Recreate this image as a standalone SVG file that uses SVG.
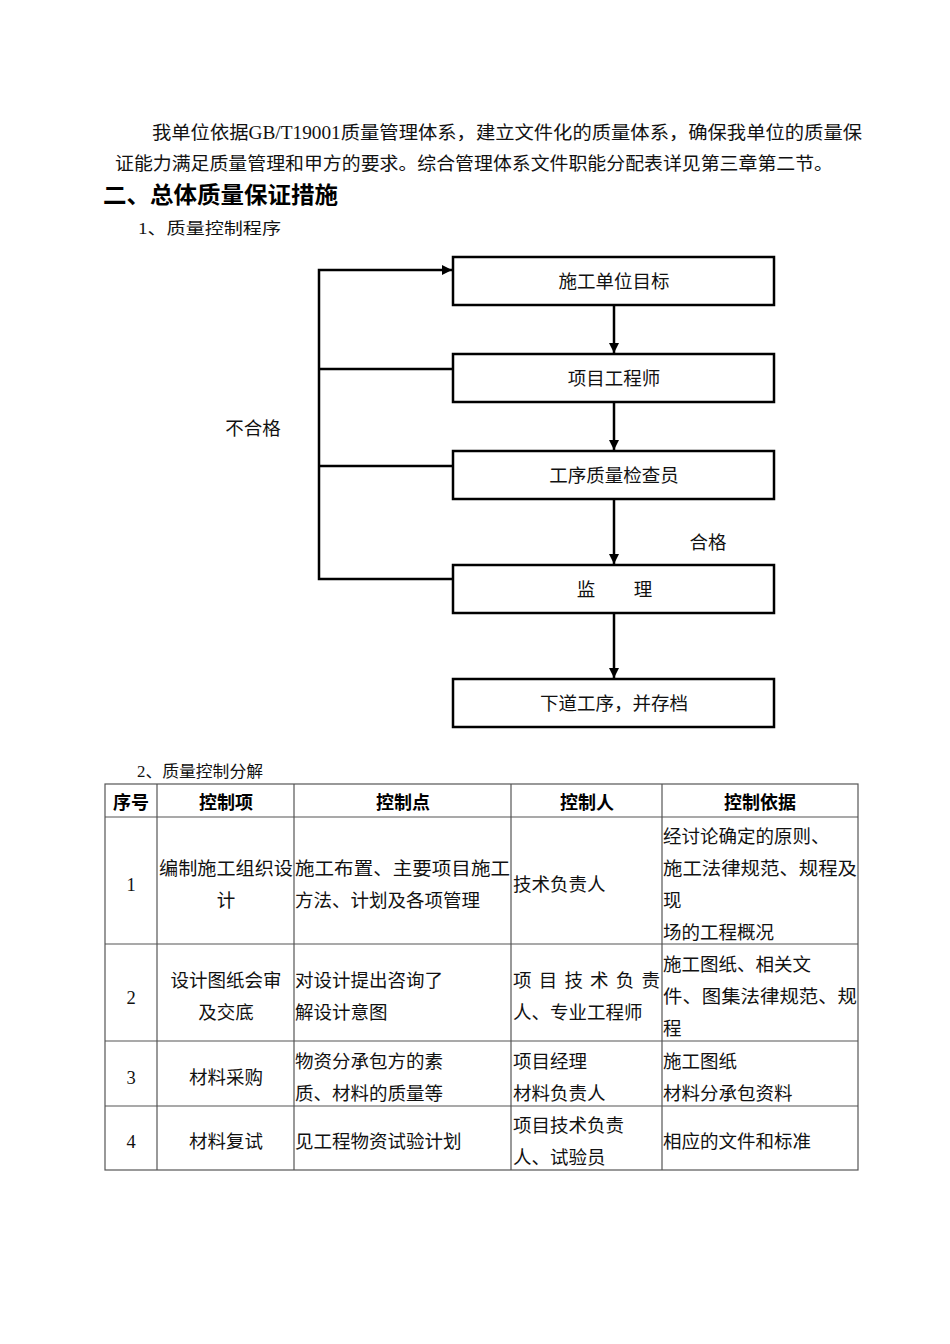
<svg xmlns="http://www.w3.org/2000/svg" width="950" height="1344" viewBox="0 0 950 1344">
<style>
.t{font-family:"Liberation Serif","Noto Sans CJK SC",serif;font-size:18.5px;fill:#111}
.h{font-family:"Noto Sans CJK SC","Liberation Sans",sans-serif;font-weight:bold;fill:#000}
.s{font-family:"Liberation Serif","Noto Sans CJK SC",serif;font-size:16px;fill:#111}
.box{fill:#fff;stroke:#000;stroke-width:2.5}
.ln{fill:none;stroke:#000;stroke-width:2.5}
.tb{fill:none;stroke:#555;stroke-width:1.2}
</style>
<defs>
<marker id="ah" viewBox="0 0 10 10" refX="10" refY="5" markerWidth="4" markerHeight="4" markerUnits="strokeWidth" orient="auto">
<path d="M0,0 L10,5 L0,10 Z" fill="#000"/>
</marker>
</defs>
<rect width="950" height="1344" fill="#fff"/>

<g id="intro">
<text class="t" x="152" y="138.5" textLength="710" lengthAdjust="spacingAndGlyphs">我单位依据GB/T19001质量管理体系，建立文件化的质量体系，确保我单位的质量保</text>
<text class="t" x="115" y="169.5" textLength="718" lengthAdjust="spacingAndGlyphs">证能力满足质量管理和甲方的要求。综合管理体系文件职能分配表详见第三章第二节。</text>
<text class="h" x="103" y="203" font-size="23" textLength="235" lengthAdjust="spacingAndGlyphs">二、总体质量保证措施</text>
<text class="s" x="138" y="234" textLength="143" lengthAdjust="spacingAndGlyphs">1、质量控制程序</text>
</g>

<g id="connectors">
<line class="ln" x1="614" y1="305" x2="614" y2="353" marker-end="url(#ah)"/>
<line class="ln" x1="614" y1="402" x2="614" y2="450" marker-end="url(#ah)"/>
<line class="ln" x1="614" y1="499" x2="614" y2="564" marker-end="url(#ah)"/>
<line class="ln" x1="614" y1="613" x2="614" y2="678" marker-end="url(#ah)"/>
<path class="ln" d="M453,579 H319 V270 H452" marker-end="url(#ah)"/>
<line class="ln" x1="319" y1="369" x2="453" y2="369"/>
<line class="ln" x1="319" y1="466" x2="453" y2="466"/>
<text class="t" x="253" y="434.5" text-anchor="middle">不合格</text>
<text class="t" x="708" y="548.5" text-anchor="middle">合格</text>
</g>

<g id="n1"><rect class="box" x="453" y="257" width="321" height="48"/><text class="t" x="614" y="288" text-anchor="middle">施工单位目标</text></g>
<g id="n2"><rect class="box" x="453" y="354" width="321" height="48"/><text class="t" x="614" y="385" text-anchor="middle">项目工程师</text></g>
<g id="n3"><rect class="box" x="453" y="451" width="321" height="48"/><text class="t" x="614" y="482" text-anchor="middle">工序质量检查员</text></g>
<g id="n4"><rect class="box" x="453" y="565" width="321" height="48"/><text class="t" x="586" y="596" text-anchor="middle">监</text><text class="t" x="643" y="596" text-anchor="middle">理</text></g>
<g id="n5"><rect class="box" x="453" y="679" width="321" height="48"/><text class="t" x="614" y="710" text-anchor="middle">下道工序，并存档</text></g>

<g id="table">
<text class="s" x="137" y="777" textLength="126" lengthAdjust="spacingAndGlyphs">2、质量控制分解</text>
<rect class="tb" x="105" y="784" width="753" height="386"/>
<line class="tb" x1="105" y1="817" x2="858" y2="817"/>
<line class="tb" x1="105" y1="944" x2="858" y2="944"/>
<line class="tb" x1="105" y1="1041" x2="858" y2="1041"/>
<line class="tb" x1="105" y1="1106" x2="858" y2="1106"/>
<line class="tb" x1="157" y1="784" x2="157" y2="1170"/>
<line class="tb" x1="294" y1="784" x2="294" y2="1170"/>
<line class="tb" x1="511" y1="784" x2="511" y2="1170"/>
<line class="tb" x1="662" y1="784" x2="662" y2="1170"/>

<g class="h" font-size="18" text-anchor="middle">
<text x="131" y="809">序号</text>
<text x="226" y="809">控制项</text>
<text x="403" y="809">控制点</text>
<text x="587" y="809">控制人</text>
<text x="760" y="809">控制依据</text>
</g>

<text class="t" x="131" y="890.5" text-anchor="middle">1</text>
<text class="t" x="159" y="874.5" textLength="134" lengthAdjust="spacingAndGlyphs">编制施工组织设</text>
<text class="t" x="226" y="906.5" text-anchor="middle">计</text>
<text class="t" x="295" y="874.5" textLength="215" lengthAdjust="spacingAndGlyphs">施工布置、主要项目施工</text>
<text class="t" x="295" y="906.5">方法、计划及各项管理</text>
<text class="t" x="513" y="890.5">技术负责人</text>
<text class="t" x="663" y="842.5">经讨论确定的原则、</text>
<text class="t" x="663" y="874.5" textLength="194" lengthAdjust="spacingAndGlyphs">施工法律规范、规程及</text>
<text class="t" x="663" y="906.5">现</text>
<text class="t" x="663" y="938.5">场的工程概况</text>

<text class="t" x="131" y="1003.5" text-anchor="middle">2</text>
<text class="t" x="226" y="986.5" text-anchor="middle">设计图纸会审</text>
<text class="t" x="226" y="1018.5" text-anchor="middle">及交底</text>
<text class="t" x="295" y="986.5">对设计提出咨询了</text>
<text class="t" x="295" y="1018.5">解设计意图</text>
<text class="t" x="513" y="986.5" textLength="147" lengthAdjust="spacing">项目技术负责</text>
<text class="t" x="513" y="1018.5">人、专业工程师</text>
<text class="t" x="663" y="970.5">施工图纸、相关文</text>
<text class="t" x="663" y="1002.5" textLength="194" lengthAdjust="spacingAndGlyphs">件、图集法律规范、规</text>
<text class="t" x="663" y="1034.5">程</text>

<text class="t" x="131" y="1083.5" text-anchor="middle">3</text>
<text class="t" x="226" y="1083.5" text-anchor="middle">材料采购</text>
<text class="t" x="295" y="1067.5">物资分承包方的素</text>
<text class="t" x="295" y="1099.5">质、材料的质量等</text>
<text class="t" x="513" y="1067.5">项目经理</text>
<text class="t" x="513" y="1099.5">材料负责人</text>
<text class="t" x="663" y="1067.5">施工图纸</text>
<text class="t" x="663" y="1099.5">材料分承包资料</text>

<text class="t" x="131" y="1147.5" text-anchor="middle">4</text>
<text class="t" x="226" y="1147.5" text-anchor="middle">材料复试</text>
<text class="t" x="295" y="1147.5">见工程物资试验计划</text>
<text class="t" x="513" y="1131.5">项目技术负责</text>
<text class="t" x="513" y="1163.5">人、试验员</text>
<text class="t" x="663" y="1147.5">相应的文件和标准</text>
</g>
</svg>
